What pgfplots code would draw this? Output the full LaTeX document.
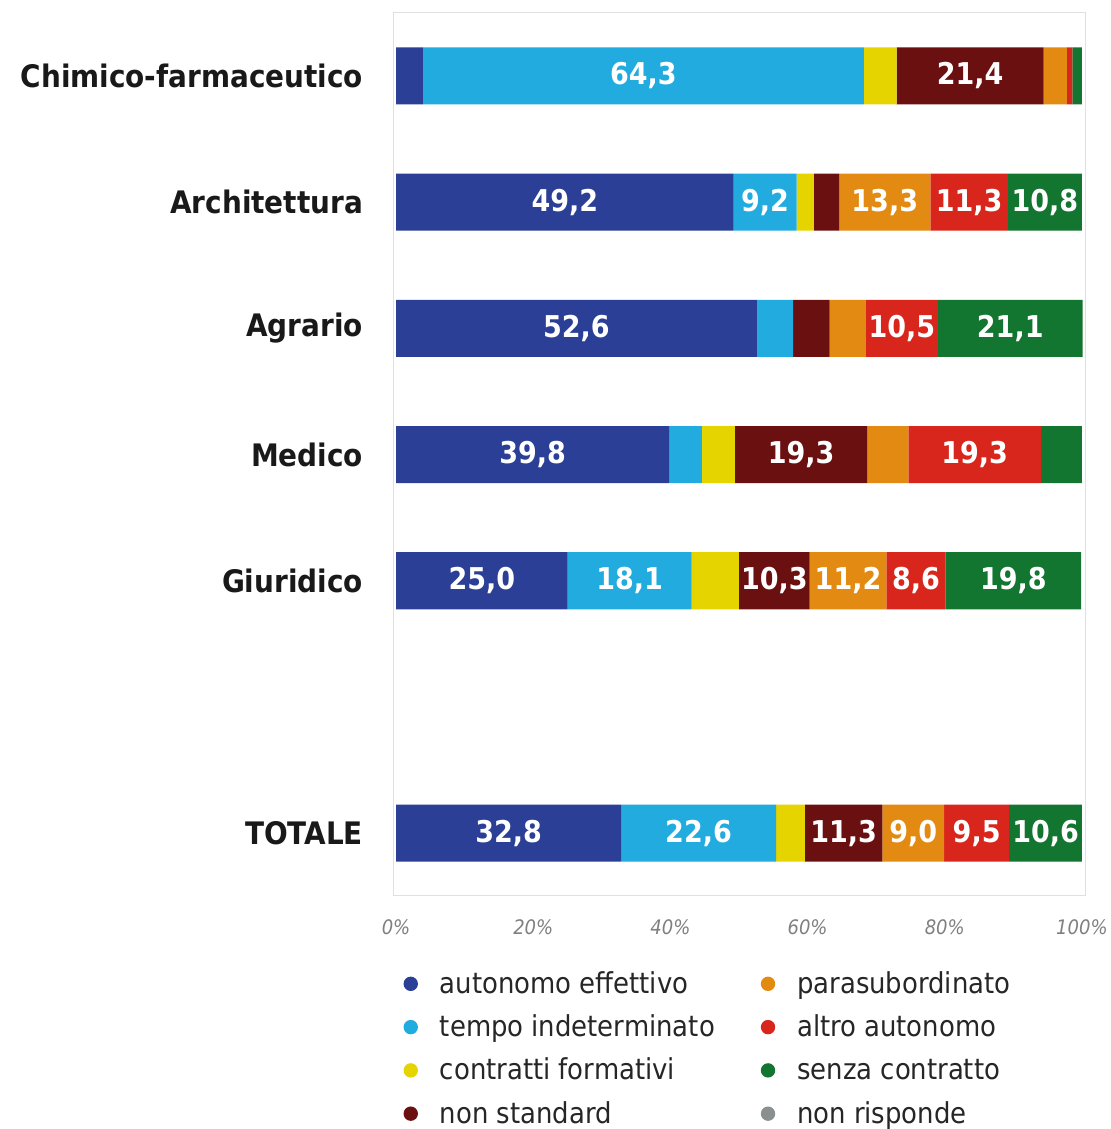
\documentclass[border=0pt]{standalone}
\usepackage{fontspec}
\setmainfont{DejaVu Sans Condensed}
\usepackage{pgfplots}
\usepackage{pgfplotstable}
\pgfplotsset{compat=1.18}
\definecolor{cAE}{HTML}{2A3F95}
\definecolor{cTI}{HTML}{22ABDE}
\definecolor{cCF}{HTML}{E6D400}
\definecolor{cNS}{HTML}{6B1010}
\definecolor{cPS}{HTML}{E38A12}
\definecolor{cAA}{HTML}{D9261C}
\definecolor{cSC}{HTML}{127530}
\definecolor{cNR}{HTML}{8A9090}
\pgfplotstableread{
pos ae ti cf ns ps aa sc
6 3.9 64.3 4.8 21.4 3.4 0.8 1.4
5 49.2 9.2 2.5 3.7 13.3 11.3 10.8
4 52.6 5.3 0 5.3 5.3 10.5 21.1
3 39.8 4.8 4.8 19.3 6.0 19.3 6.0
2 25.0 18.1 6.9 10.3 11.2 8.6 19.8
0 32.8 22.6 4.2 11.3 9.0 9.5 10.6
}\datatable
\begin{document}
\begin{tikzpicture}
\useasboundingbox (-196.5pt,-117pt) rectangle (359pt,447.5pt);
\begin{axis}[
  at={(0,0)}, anchor=south west,
  xbar stacked,
  width=346pt, height=441.5pt, scale only axis,
  xmin=-0.45, xmax=100.45, ymin=-0.49, ymax=6.507,
  bar width=0.452,
  axis line style={draw=black!12},
  tick style={draw=none},
  xtick={0,20,...,100},
  xticklabel={\pgfmathprintnumber{\tick}\%},
  xticklabel style={font=\fontsize{10}{12}\selectfont\itshape, text=black!50, yshift=-9pt},
  ytick={0,2,3,4,5,6},
  yticklabels={TOTALE,Giuridico,Medico,Agrario,Architettura,Chimico-farmaceutico},
  yticklabel style={font=\fontsize{15.5}{18}\selectfont\bfseries, text=black!90, xshift=-11.5pt},
  /pgf/number format/assume math mode=true,
  legend columns=4, transpose legend,
  legend style={at={(0.006,-0.077)}, anchor=north west, draw=none, fill=none,
    font=\fontsize{14.4}{16}\selectfont, text=black!85, row sep=5.2pt,
    /tikz/every even column/.append style={column sep=21pt}},
  legend cell align=left,
  legend image code/.code={\fill[#1, draw=none] (6.3pt,0) circle (3.6pt); \path[draw=none, fill=none] (2.7pt,0) -- (18.9pt,0);},
  lab/.style={point meta=explicit, visualization depends on={\thisrow{#1} \as \rawv}},
  nodes near coords={\ifdim\rawv pt<8pt\else\pgfmathprintnumber[use comma,fixed,fixed zerofill,precision=1,assume math mode=true]{\pgfplotspointmeta}\fi},
  every node near coord/.append style={font=\fontsize{15}{18}\selectfont\bfseries, text=white, anchor=center},
]
\addplot[fill=cAE, draw=none, lab=ae] table[x=ae, y=pos, meta=ae]{\datatable};
\addlegendentry{autonomo effettivo}
\addplot[fill=cTI, draw=none, lab=ti] table[x=ti, y=pos, meta=ti]{\datatable};
\addlegendentry{tempo indeterminato}
\addplot[fill=cCF, draw=none, lab=cf] table[x=cf, y=pos, meta=cf]{\datatable};
\addlegendentry{contratti formativi}
\addplot[fill=cNS, draw=none, lab=ns] table[x=ns, y=pos, meta=ns]{\datatable};
\addlegendentry{non standard}
\addplot[fill=cPS, draw=none, lab=ps] table[x=ps, y=pos, meta=ps]{\datatable};
\addlegendentry{parasubordinato}
\addplot[fill=cAA, draw=none, lab=aa] table[x=aa, y=pos, meta=aa]{\datatable};
\addlegendentry{altro autonomo}
\addplot[fill=cSC, draw=none, lab=sc] table[x=sc, y=pos, meta=sc]{\datatable};
\addlegendentry{senza contratto}
\addlegendimage{fill=cNR, draw=none}
\addlegendentry{non risponde}
\end{axis}
\end{tikzpicture}
\end{document}
